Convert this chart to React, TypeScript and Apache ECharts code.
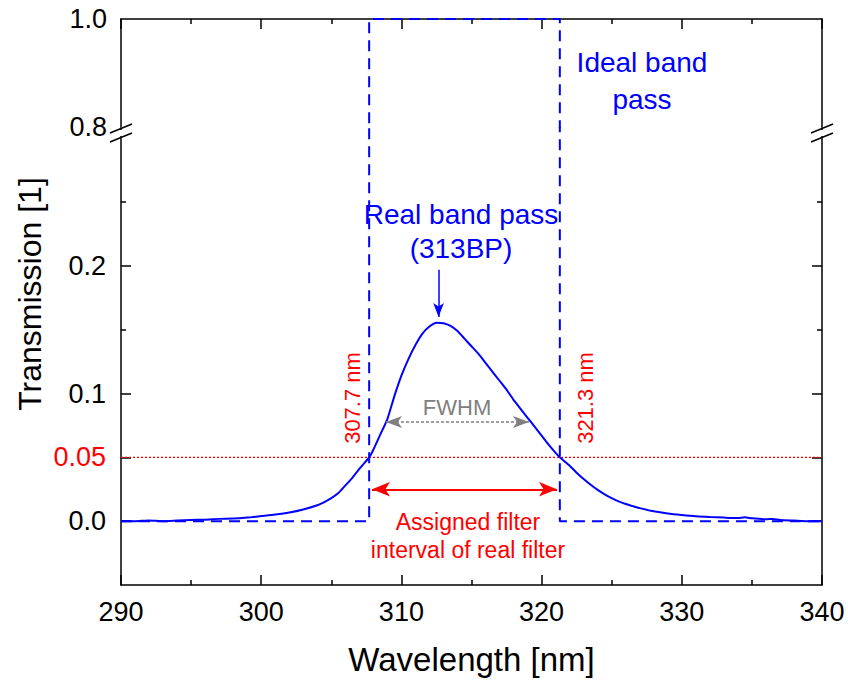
import React, { useEffect, useRef } from "react";
import * as echarts from "echarts";

// Real band pass (313BP) measured transmission
const wavelength = [
  290, 291, 292, 293, 294, 295, 296, 297, 298, 299, 300, 301, 302, 303, 304, 304.5, 305, 305.5, 306, 306.5,
  307, 307.7, 308, 308.5, 309, 309.5, 310, 310.5, 311, 311.5, 312, 312.5, 313, 313.5, 314, 314.5, 315,
  315.5, 316, 316.5, 317, 317.5, 318, 318.5, 319, 319.5, 320, 320.5, 321, 321.3, 322, 322.5, 323, 323.5,
  324, 324.5, 325, 325.5, 326, 326.5, 327, 328, 329, 330, 331, 332, 333, 334, 334.5, 335, 336, 336.5, 337,
  338, 339, 340,
];
const transmission = [
  0.0, 0.0, 0.0005, 0.0, 0.0005, 0.001, 0.0012, 0.0018, 0.002, 0.0028, 0.004, 0.0052, 0.0068, 0.0092, 0.0125,
  0.015, 0.018, 0.022, 0.028, 0.034, 0.041, 0.05, 0.056, 0.068, 0.08, 0.098, 0.114, 0.127, 0.138, 0.147,
  0.1525, 0.1555, 0.155, 0.153, 0.149, 0.143, 0.137, 0.131, 0.124, 0.117, 0.11, 0.103, 0.095, 0.088, 0.081,
  0.074, 0.067, 0.06, 0.0535, 0.05, 0.0435, 0.038, 0.033, 0.0285, 0.0245, 0.021, 0.018, 0.0155, 0.0135,
  0.0118, 0.0102, 0.0077, 0.006, 0.0048, 0.0038, 0.0032, 0.0028, 0.0025, 0.003, 0.0022, 0.0015, 0.0018, 0.001,
  0.0005, 0.0, 0.0,
];

// Ideal band pass (rectangular)
const idealX = [290, 307.7, 307.7, 321.3, 321.3, 340];
const idealY = [0, 0, 1, 1, 0, 0];

// Threshold line
const thresholdX = [290, 340];
const thresholdY = [0.05, 0.05];

// Axis ticks / labels
const xMin = 290;
const xMax = 340;
const xStep = 10;
const lowerLabelValues = [0, 0.05, 0.1, 0.2];
const lowerMinorTicks = [0.15, 0.25];
const upperLabelValues = [0.8, 1.0];

// Annotations (data coordinates)
const fwhmArrow = { x1: 308.9, x2: 319.1, y: 0.0776 };
const assignedArrow = { x1: 307.9, x2: 321.1, y: 0.025 };
const peakArrow = { x: 312.65, y1: 0.197, y2: 0.16 };

const FONT = "Liberation Sans, Arial, Helvetica, sans-serif";
const BLUE = "#0000ff";
const RED = "#ff0000";
const GRAY = "#808080";

const zip = (a: number[], b: number[]) => a.map((v, i) => [v, b[i]]);

function breakMarks(x0: number) {
  return [
    { type: "rect", z: 100, shape: { x: x0 - 3, y: 130, width: 6, height: 6 }, style: { fill: "#fff" } },
    { type: "line", z: 101, shape: { x1: x0 - 11, y1: 133, x2: x0 + 11, y2: 124 }, style: { stroke: "#000", lineWidth: 1.5 } },
    { type: "line", z: 101, shape: { x1: x0 - 11, y1: 142, x2: x0 + 11, y2: 133 }, style: { stroke: "#000", lineWidth: 1.5 } },
  ];
}

export default function App() {
  const ref = useRef<HTMLDivElement>(null);
  useEffect(() => {
    const chart = echarts.init(ref.current!, null, { renderer: "svg" });
    const axisLine = { show: true, onZero: false, lineStyle: { color: "#000", width: 1.5 } };
    const xCommon = {
      type: "value",
      min: xMin,
      max: xMax,
      interval: xStep,
      splitLine: { show: false },
      axisLine,
      axisTick: { show: true, inside: true, length: 10, lineStyle: { color: "#000", width: 1.5 } },
      minorTick: { show: true, splitNumber: 2, length: 5, lineStyle: { color: "#000", width: 1.5 } },
    };
    const option: any = {
      animation: false,
      backgroundColor: "#fff",
      textStyle: { fontFamily: FONT },
      grid: [
        { left: 121, right: 26, top: 19, height: 108 },
        { left: 121, right: 26, top: 128, height: 457 },
      ],
      xAxis: [
        { ...xCommon, gridIndex: 0, position: "top", axisLabel: { show: false } },
        {
          ...xCommon,
          gridIndex: 1,
          position: "bottom",
          axisLabel: { show: true, color: "#000", fontSize: 27, fontFamily: FONT, margin: 13 },
          name: "Wavelength [nm]",
          nameLocation: "middle",
          nameGap: 58,
          nameTextStyle: { color: "#000", fontSize: 33, fontFamily: FONT },
        },
      ],
      yAxis: [
        {
          type: "value", gridIndex: 0, position: "left", min: 0.8, max: 1.0,
          splitLine: { show: false }, axisLine, axisTick: { show: false },
          axisLabel: {
            show: true, customValues: upperLabelValues, color: "#000", fontSize: 27, fontFamily: FONT, margin: 14,
            formatter: (v: number) => v.toFixed(1),
          },
        },
        {
          type: "value", gridIndex: 0, position: "right", min: 0.8, max: 1.0,
          splitLine: { show: false }, axisLine, axisTick: { show: false }, axisLabel: { show: false },
        },
        {
          type: "value", gridIndex: 1, position: "left", min: -0.05, max: 0.308,
          splitLine: { show: false }, axisLine,
          axisTick: { show: true, inside: true, length: 10, customValues: lowerLabelValues, lineStyle: { color: "#000", width: 1.5 } },
          axisLabel: {
            show: true, customValues: lowerLabelValues, color: "#000", fontSize: 27, fontFamily: FONT, margin: 15,
            formatter: (v: number) => (Math.abs(v - 0.05) < 1e-9 ? "{r|0.05}" : v.toFixed(1)),
            rich: { r: { color: RED, fontSize: 27, fontFamily: FONT } },
          },
        },
        {
          type: "value", gridIndex: 1, position: "right", min: -0.05, max: 0.308,
          splitLine: { show: false }, axisLine,
          axisTick: { show: true, inside: true, length: 10, customValues: lowerLabelValues, lineStyle: { color: "#000", width: 1.5 } },
          axisLabel: { show: false },
        },
        {
          type: "value", gridIndex: 1, position: "left", min: -0.05, max: 0.308,
          splitLine: { show: false }, axisLine: { show: false },
          axisTick: { show: true, inside: true, length: 5, customValues: lowerMinorTicks, lineStyle: { color: "#000", width: 1.5 } },
          axisLabel: { show: false },
        },
        {
          type: "value", gridIndex: 1, position: "right", min: -0.05, max: 0.308,
          splitLine: { show: false }, axisLine: { show: false },
          axisTick: { show: true, inside: true, length: 5, customValues: lowerMinorTicks, lineStyle: { color: "#000", width: 1.5 } },
          axisLabel: { show: false },
        },
      ],
      series: [
        {
          name: "threshold", type: "line", xAxisIndex: 1, yAxisIndex: 2, data: zip(thresholdX, thresholdY),
          showSymbol: false, silent: true, lineStyle: { color: RED, width: 1.2, type: [2, 2] }, z: 1,
        },
        {
          name: "ideal-lower", type: "line", xAxisIndex: 1, yAxisIndex: 2, data: zip(idealX, idealY),
          showSymbol: false, silent: true, clip: true, lineStyle: { color: BLUE, width: 2, type: [11, 7] }, z: 2,
        },
        {
          name: "ideal-upper", type: "line", xAxisIndex: 0, yAxisIndex: 0, data: zip(idealX, idealY),
          showSymbol: false, silent: true, clip: true, lineStyle: { color: BLUE, width: 2, type: [11, 7] }, z: 2,
        },
        {
          name: "real", type: "line", xAxisIndex: 1, yAxisIndex: 2, data: zip(wavelength, transmission),
          showSymbol: false, silent: true, smooth: 0.2, lineStyle: { color: BLUE, width: 2 }, z: 3,
        },
        {
          name: "annotations", type: "line", xAxisIndex: 1, yAxisIndex: 2, data: [], silent: true,
          markLine: {
            silent: true, animation: false, label: { show: false }, emphasis: { disabled: true },
            data: [
              [
                { coord: [fwhmArrow.x1, fwhmArrow.y], symbol: "arrow", symbolSize: [9, 16], lineStyle: { color: GRAY, width: 1.5, type: [3, 2] } },
                { coord: [fwhmArrow.x2, fwhmArrow.y], symbol: "arrow", symbolSize: [9, 16] },
              ],
              [
                { coord: [assignedArrow.x1, assignedArrow.y], symbol: "arrow", symbolSize: [11, 18], lineStyle: { color: RED, width: 2, type: "solid" } },
                { coord: [assignedArrow.x2, assignedArrow.y], symbol: "arrow", symbolSize: [11, 18] },
              ],
              [
                { coord: [peakArrow.x, peakArrow.y1], symbol: "none", lineStyle: { color: BLUE, width: 1.5, type: "solid" } },
                { coord: [peakArrow.x, peakArrow.y2], symbol: "arrow", symbolSize: [8, 14] },
              ],
            ],
          },
        },
      ],
      graphic: [
        ...breakMarks(121),
        ...breakMarks(822),
        {
          type: "text", x: 30, y: 294, rotation: Math.PI / 2, z: 100,
          style: { text: "Transmission [1]", fill: "#000", font: `32px ${FONT}`, align: "center", verticalAlign: "middle" },
        },
        {
          type: "text", x: 642, y: 44, z: 100,
          style: { text: "Ideal band\npass", fill: BLUE, font: `28px ${FONT}`, align: "center", verticalAlign: "top", lineHeight: 37 },
        },
        {
          type: "text", x: 461, y: 197, z: 100,
          style: { text: "Real band pass\n(313BP)", fill: BLUE, font: `28px ${FONT}`, align: "center", verticalAlign: "top", lineHeight: 34 },
        },
        {
          type: "text", x: 457, y: 407, z: 100,
          style: { text: "FWHM", fill: GRAY, font: `22px ${FONT}`, align: "center", verticalAlign: "middle" },
        },
        {
          type: "text", x: 352, y: 398, rotation: Math.PI / 2, z: 100,
          style: { text: "307.7 nm", fill: RED, font: `22px ${FONT}`, align: "center", verticalAlign: "middle" },
        },
        {
          type: "text", x: 585, y: 398, rotation: Math.PI / 2, z: 100,
          style: { text: "321.3 nm", fill: RED, font: `22px ${FONT}`, align: "center", verticalAlign: "middle" },
        },
        {
          type: "text", x: 468, y: 508, z: 100,
          style: { text: "Assigned filter\ninterval of real filter", fill: RED, font: `23px ${FONT}`, align: "center", verticalAlign: "top", lineHeight: 28 },
        },
      ],
    };
    chart.setOption(option);
    return () => chart.dispose();
  }, []);
  return <div ref={ref} style={{ position: "fixed", left: 0, top: 0, width: 848, height: 681 }} />;
}
